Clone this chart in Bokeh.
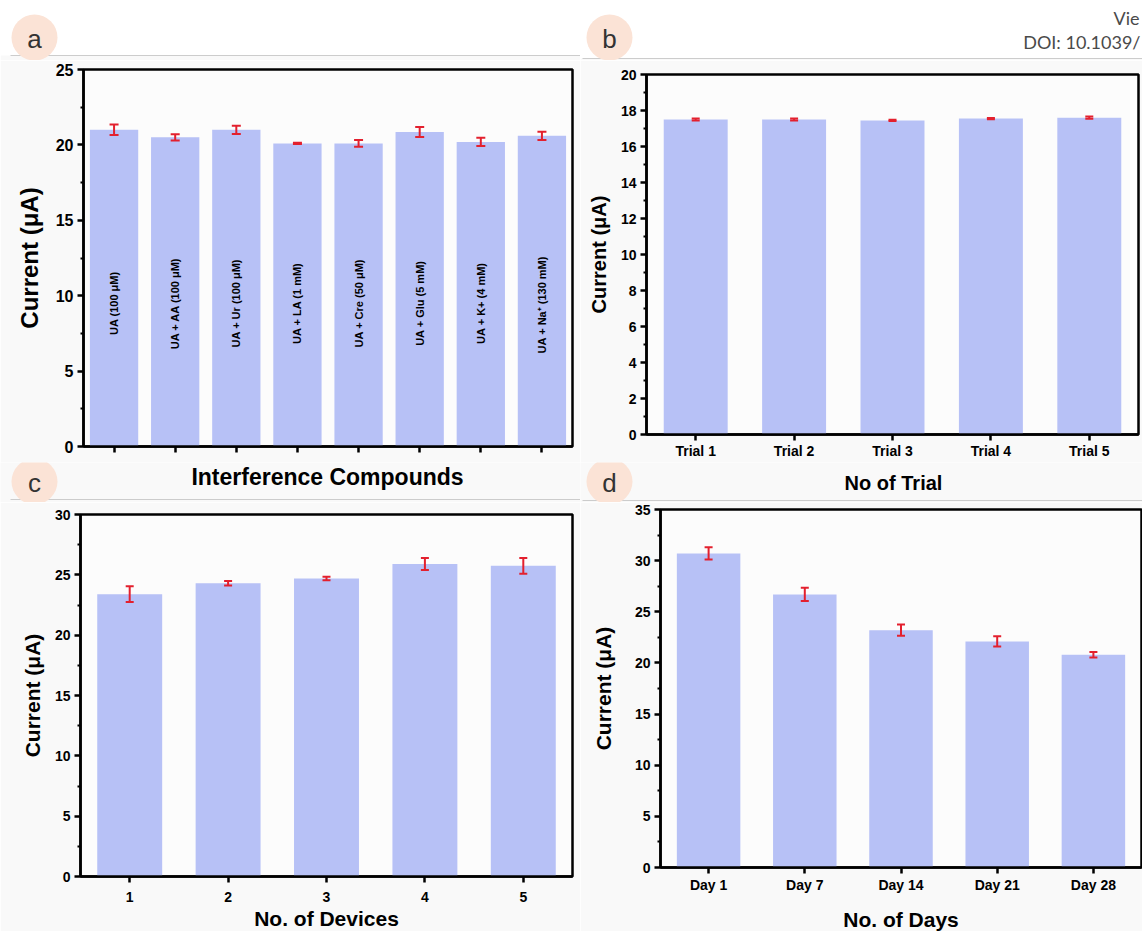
import math

from bokeh.core.properties import value
from bokeh.embed import file_html
from bokeh.layouts import column, row
from bokeh.models import (ColumnDataSource, FixedTicker, Range1d, TeeHead,
                          Whisker)
from bokeh.plotting import figure
from bokeh.resources import INLINE

# ---- data -------------------------------------------------------------
interference_labels = ["UA (100 μM)", "UA + AA (100 μM)", "UA + Ur (100 μM)",
                       "UA + LA (1 mM)", "UA + Cre (50 μM)", "UA + Glu (5 mM)",
                       "UA + K+ (4 mM)", "UA  + Na⁺ (130 mM)"]
interference_current = [21.0, 20.5, 21.0, 20.1, 20.1, 20.85, 20.2, 20.6]
interference_error = [0.35, 0.2, 0.27, 0.04, 0.22, 0.33, 0.27, 0.28]

trial_labels = ["Trial 1", "Trial 2", "Trial 3", "Trial 4", "Trial 5"]
trial_current = [17.5, 17.5, 17.45, 17.55, 17.6]
trial_error = [0.05, 0.06, 0.04, 0.04, 0.06]

device_labels = ["1", "2", "3", "4", "5"]
device_current = [23.4, 24.3, 24.7, 25.9, 25.75]
device_error = [0.65, 0.18, 0.15, 0.5, 0.65]

day_labels = ["Day 1", "Day 7", "Day 14", "Day 21", "Day 28"]
day_current = [30.7, 26.7, 23.2, 22.1, 20.8]
day_error = [0.6, 0.65, 0.55, 0.5, 0.26]

# ---- styling ----------------------------------------------------------
FONT = "Liberation Sans"
BAR = "#b7c1f6"
ERR = "#e3202e"
PAGE = "#f9f9f9"
RULE = "#cccccc"
BADGE = "#fbe3d6"


def bar_panel(cats, cur, err, y_max, y_step, frame, border, bar_w, x_title,
              tick_px, ytitle_px, xtitle_px, cap, y_std, x_lab_std, x_std,
              show_cat_labels=True):
    n = len(cats)
    xs = list(range(1, n + 1))
    p = figure(frame_width=frame[0], frame_height=frame[1],
               x_range=Range1d(0.5, n + 0.5), y_range=Range1d(0, y_max),
               output_backend="svg", toolbar_location=None,
               min_border_left=border[0], min_border_right=border[1],
               min_border_top=border[2], min_border_bottom=border[3])
    p.background_fill_color = "#fcfcfc"
    p.border_fill_color = PAGE
    p.grid.visible = False
    p.outline_line_color = "black"
    p.outline_line_width = 2.5
    p.outline_line_alpha = 1.0

    src = ColumnDataSource(dict(
        x=xs, top=cur,
        lo=[c - e for c, e in zip(cur, err)],
        hi=[c + e for c, e in zip(cur, err)],
    ))
    p.vbar(x="x", top="top", width=bar_w, source=src,
           fill_color=BAR, line_color=None)
    p.add_layout(Whisker(
        base="x", upper="hi", lower="lo", source=src, level="annotation",
        line_color=ERR, line_width=2,
        upper_head=TeeHead(size=cap, line_color=ERR, line_width=2),
        lower_head=TeeHead(size=cap, line_color=ERR, line_width=2)))

    # x axis: one tick per category
    xa = p.xaxis[0]
    xa.ticker = FixedTicker(ticks=xs)
    if show_cat_labels:
        xa.major_label_overrides = {i: c for i, c in zip(xs, cats)}
    else:
        xa.major_label_overrides = {i: "" for i in xs}
    xa.minor_tick_line_color = None
    # y axis: majors every y_step, one minor between
    ya = p.yaxis[0]
    majors = list(range(0, y_max + 1, y_step))
    ya.ticker = FixedTicker(ticks=majors,
                            minor_ticks=[m + y_step / 2 for m in majors[:-1]])
    for ax in (xa, ya):
        ax.axis_line_width = 2.5
        ax.axis_line_color = "black"
        ax.major_tick_line_width = 2.5
        ax.major_tick_line_color = "black"
        ax.major_tick_in = 0
        ax.major_tick_out = 6
        ax.minor_tick_in = 0
        ax.minor_tick_out = 3
        ax.minor_tick_line_width = 2
        ax.major_label_text_font = FONT
        ax.major_label_text_font_style = "bold"
        ax.major_label_text_font_size = f"{tick_px}px"
        ax.major_label_text_color = "black"
        ax.axis_label_text_font = FONT
        ax.axis_label_text_font_style = "bold"
        ax.axis_label_text_color = "black"
    ya.major_label_standoff = 4
    xa.major_label_standoff = x_lab_std
    if not show_cat_labels:
        xa.major_label_text_font_size = "2px"
    ya.axis_label = "Current (μA)"
    ya.axis_label_text_font_size = f"{ytitle_px}px"
    ya.axis_label_standoff = y_std
    if x_title:
        xa.axis_label = x_title
        xa.axis_label_text_font_size = f"{xtitle_px}px"
        xa.axis_label_standoff = x_std
    return p


def strip(w, h, fill=PAGE):
    """A plain canvas measured in pixels (y grows downward) for page furniture."""
    s = figure(frame_width=w, frame_height=h,
               x_range=Range1d(0, w), y_range=Range1d(h, 0),
               x_axis_type=None, y_axis_type=None,
               output_backend="svg", toolbar_location=None, min_border=0)
    s.grid.visible = False
    s.outline_line_color = None
    s.background_fill_color = fill
    s.border_fill_color = fill
    return s


def badge(s, cx, cy, letter, r=23):
    s.scatter(x=[cx], y=[cy], size=2 * r, marker="circle",
              fill_color=BADGE, line_color=None)
    s.text(x=[cx], y=[cy + 1], text=[letter], text_font=value(FONT),
           text_font_size="26px", text_color="#333333",
           text_align="center", text_baseline="middle")


def rule(s, x0, x1, y):
    s.segment(x0=[x0], y0=[y], x1=[x1], y1=[y], line_color=RULE, line_width=1)


# ---- chart panels ------------------------------------------------------
pa = bar_panel(interference_labels, interference_current, interference_error,
               25, 5, (489, 377), (83, 8, 9, 16), 0.79,
               None, 16, 24, 23, 9,
               y_std=10, x_lab_std=2, x_std=0, show_cat_labels=False)
label_src = ColumnDataSource(dict(x=list(range(1, len(interference_labels) + 1)),
                                  text=interference_labels))
pa.text(x="x", y=9.5, text="text", source=label_src, angle=math.pi / 2,
        text_align="center", text_baseline="middle",
        text_font=value(FONT), text_font_style="bold",
        text_font_size="11px", text_color="black")

pb = bar_panel(trial_labels, trial_current, trial_error,
               20, 2, (492, 360), (66, 4, 14, 28), 0.65,
               None, 14, 20, 20, 8,
               y_std=8, x_lab_std=2, x_std=0)

pc = bar_panel(device_labels, device_current, device_error,
               30, 5, (492, 362), (80, 8, 12, 55), 0.66,
               "No. of Devices", 14, 21, 21, 8,
               y_std=8, x_lab_std=9, x_std=2)

pd_ = bar_panel(day_labels, day_current, day_error,
                35, 5, (481, 358), (80, 1, 7, 64), 0.66,
                "No. of Days", 14, 21, 21, 8,
                y_std=17, x_lab_std=3, x_std=12)

# ---- header strips (panel letters, rules, journal header) ---------------
top_left = strip(580, 60, fill="white")
top_left.quad(left=[0], right=[580], top=[55], bottom=[60],
              fill_color=PAGE, line_color=None)
rule(top_left, 10, 580, 55)
badge(top_left, 34, 37, "a")

top_right = strip(562, 60, fill="white")
top_right.quad(left=[0], right=[562], top=[58], bottom=[60],
               fill_color=PAGE, line_color=None)
rule(top_right, 2, 562, 58)
badge(top_right, 29, 37, "b")
top_right.text(x=[559], y=[17], text=["Vie"], text_font=value("Lato"),
               text_font_size="18px", text_color="#4a4a4a",
               text_align="right", text_baseline="middle")
top_right.text(x=[560], y=[41], text=["DOI: 10.1039/"], text_font=value("Lato"),
               text_font_size="18px", text_color="#4a4a4a",
               text_align="right", text_baseline="middle")

# strips between the rows: x titles of the upper charts + lower panel letters
mid_left = strip(580, 40)
rule(mid_left, 10, 580, 37)
badge(mid_left, 34, 19, "c")
mid_left.text(x=[327], y=[14], text=["Interference Compounds"],
              text_font=value(FONT), text_font_style="bold",
              text_font_size="23px", text_color="black",
              text_align="center", text_baseline="middle")

mid_right = strip(562, 40)
rule(mid_right, 2, 562, 38)
badge(mid_right, 29, 19, "d")
mid_right.text(x=[313], y=[20], text=["No of Trial"],
               text_font=value(FONT), text_font_style="bold",
               text_font_size="20px", text_color="black",
               text_align="center", text_baseline="middle")


def pair(left, right):
    return row(column(left), column(right), spacing=0)


layout = column(pair(top_left, top_right), pair(pa, pb),
                pair(mid_left, mid_right), pair(pc, pd_), spacing=0)

with open("out.html", "w") as fh:
    fh.write(file_html(layout, INLINE, title="Current stability panels"))
